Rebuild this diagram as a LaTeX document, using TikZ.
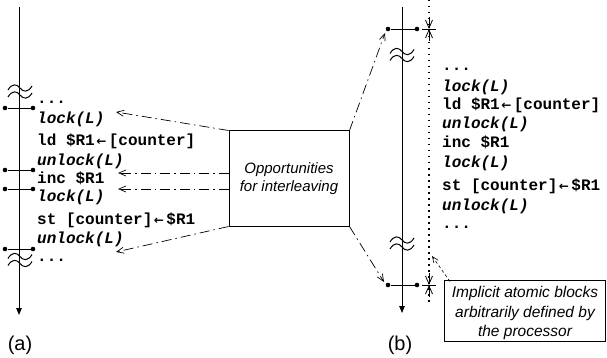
\documentclass[tikz,border=0pt]{standalone}
\usepackage{fontspec}
\setmainfont{Liberation Sans}
\newfontfamily\monofont{Liberation Mono}
\newfontfamily\arrfont{DejaVu Sans}
\usetikzlibrary{arrows.meta}
\newcommand\codearr{\hspace{1.5pt}{\arrfont\bfseries\fontsize{12}{12}\selectfont ←}\hspace{2.5pt}}
\begin{document}
\begin{tikzpicture}[x=1pt,y=-1pt,
  code/.style={anchor=base west, inner sep=0pt, font=\monofont\bfseries\fontsize{16}{19}\selectfont},
  kw/.style={code, font=\monofont\bfseries\itshape\fontsize{16}{19}\selectfont},
  timeline/.style={line width=0.9pt, -{Triangle[length=7pt,width=5.5pt]}},
  tickline/.style={line width=0.9pt},
  tdot/.style={circle, fill, inner sep=0pt, minimum size=4.6pt},
  ilv/.style={line width=0.7pt, dash pattern=on 10pt off 4pt on 1.5pt off 4pt, -{Straight Barb[length=7pt,width=6pt]}},
  hint/.style={line width=0.6pt, dash pattern=on 3pt off 2.5pt, -{Straight Barb[length=6pt,width=5pt]}},
  dimarr/.style={line width=0.8pt, -{Straight Barb[length=8pt,width=7pt]}},
  dotline/.style={line width=1.1pt, dash pattern=on 1.5pt off 4.5pt},
  note/.style={draw, line width=1pt, font=\itshape\fontsize{15}{18.5}\selectfont, align=center, inner sep=2pt},
  notetext/.style={font=\itshape\fontsize{15.5}{19.5}\selectfont, align=center, inner sep=0pt},
  lbl/.style={font=\fontsize{20}{24}\selectfont, inner sep=0pt},
  breakmark/.pic={
    \draw[line width=1pt] (-12,-1.5) .. controls (-8,-8.5) and (-3,-7.5) .. (0,-3.5) .. controls (3,0.5) and (8,1.5) .. (12,-5.5);
    \draw[line width=1pt] (-12,5.5) .. controls (-8,-1.5) and (-3,-0.5) .. (0,3.5) .. controls (3,7.5) and (8,8.5) .. (12,1.5);
  }
]
\useasboundingbox (0,0) rectangle (607,358);

% ---------------- (a) ----------------
\coordinate (atop) at (19,7);
\coordinate (abot) at (19,315);
\draw[timeline] (atop) -- (abot);
\pic at (20,91.5) {breakmark};
\pic at (20,260) {breakmark};

\foreach \n/\y in {1/108,2/170,3/189,4/249}{
  \node[tdot] (al\n) at (5,\y) {};
  \node[tdot] (ar\n) at (33,\y) {};
  \draw[tickline] (al\n) -- (ar\n);
}

\node[code] (ca0) at (37,104) {...};
\node[kw]   (ca1) at (37,124) {lock(L)};
\node[code] (ca2) at (37,146) {ld \$R1\codearr[counter]};
\node[kw]   (ca3) at (37,165) {unlock(L)};
\node[code] (ca4) at (37,183.5) {inc \$R1};
\node[kw]   (ca5) at (37,201.5) {lock(L)};
\node[code] (ca6) at (37,224) {st [counter]\codearr\$R1};
\node[kw]   (ca7) at (37,243) {unlock(L)};
\node[code] (ca8) at (37,261) {...};

\node[lbl] (la) at (20,345) {(a)};

% ---------------- box ----------------
\node[note, minimum width=120pt, minimum height=95pt] (opp) at (289,178.5) {Opportunities\\for interleaving};

\coordinate (t1) at (116,112);
\coordinate (t2) at (118,173);
\coordinate (t3) at (118,189);
\coordinate (t4) at (116,252);
\draw[ilv] (opp.north west) -- (t1);
\draw[ilv] (opp.west |- t2) -- (t2);
\draw[ilv] (opp.west |- t3) -- (t3);
\draw[ilv] (opp.south west) -- (t4);

\coordinate (t5) at (385,33);
\coordinate (t6) at (384,282);
\draw[ilv] (opp.north east) -- (t5);
\draw[ilv] (opp.south east) -- (t6);

% ---------------- (b) ----------------
\coordinate (btop) at (402,7);
\coordinate (bbot) at (402,313);
\draw[timeline] (btop) -- (bbot);
\pic at (402,55) {breakmark};
\pic at (402,243.5) {breakmark};

\node[tdot] (bl1) at (388,29) {};
\node[tdot] (br1) at (417,29) {};
\draw[tickline] (bl1) -- (br1);
\node[tdot] (bl2) at (388,285) {};
\node[tdot] (br2) at (417,285) {};
\draw[tickline] (bl2) -- (br2);

\coordinate (dtop) at (429,0);
\coordinate (dbot) at (429,304);
\draw[dotline] (dtop) -- (dbot);

\foreach \y/\k in {29/u,285/d}{
  \coordinate (m\k) at (429,\y);
  \coordinate (m\k a) at (429,\y-12);
  \coordinate (m\k b) at (429,\y+12);
  \coordinate (m\k l) at (422,\y);
  \coordinate (m\k r) at (436,\y);
  \draw[line width=0.8pt] (m\k l) -- (m\k r);
  \draw[dimarr] (m\k a) -- (m\k);
  \draw[dimarr] (m\k b) -- (m\k);
}

\node[code] (cb0) at (442,71) {...};
\node[kw]   (cb1) at (442,91.5) {lock(L)};
\node[code] (cb2) at (442,110) {ld \$R1\codearr[counter]};
\node[kw]   (cb3) at (442,129) {unlock(L)};
\node[code] (cb4) at (442,148) {inc \$R1};
\node[kw]   (cb5) at (442,167.5) {lock(L)};
\node[code] (cb6) at (442,190.5) {st [counter]\codearr\$R1};
\node[kw]   (cb7) at (442,210) {unlock(L)};
\node[code] (cb8) at (442,228.5) {...};

\node[note, minimum width=161pt, minimum height=61pt] (impl) at (525,310.5) {};
\node[notetext] (impltext) at (525,313) {Implicit atomic blocks\\arbitrarily defined by\\the processor};
\coordinate (t7) at (432,256);
\draw[hint] ([xshift=6pt,yshift=-2pt]impl.north west) -- (t7);

\node[lbl] (lb) at (400,345) {(b)};
\end{tikzpicture}
\end{document}
